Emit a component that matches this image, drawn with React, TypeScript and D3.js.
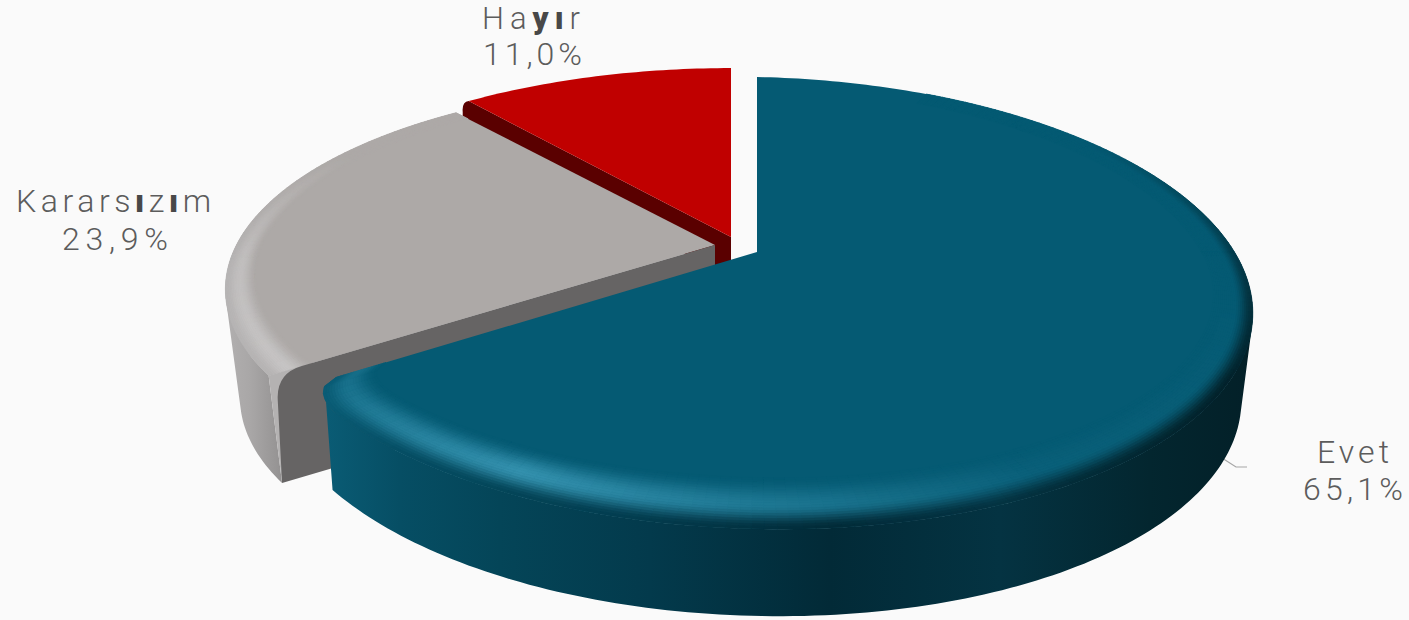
import React from 'react';
import * as d3 from 'd3';

const categories = ['Evet', 'Kararsızım', 'Hayır'];
const shares = [65.1, 23.9, 11.0];
const shareLabels = ['65,1%', '23,9%', '11,0%'];

const width = 1409;
const height = 620;
const deg = Math.PI / 180;

interface Geom {
  ax: number; ay: number; A: number; B: number; D: number; k: number;
  sx: number; sy: number; H: number;
}

// each exploded slice has its own projection, the original is a perspective render
const blueGeom: Geom = { ax: 757, ay: 252, A: 483, B: 214.5, D: 10, k: 0.2256, sx: 0.977, sy: 1, H: 87 };
const grayGeom: Geom = { ax: 715, ay: 245, A: 477, B: 199, D: 3, k: 0.2256, sx: 0.97, sy: 0.98, H: 110 };
const redGeom: Geom = { ax: 731, ay: 237, A: 483, B: 207, D: 0, k: 0.2256, sx: 1, sy: 1, H: 40 };

type P = [number, number];

function project(g: Geom, theta: number, r: number): P {
  const u = r * Math.sin(theta);
  const v = -r * Math.cos(theta);
  const s = 1 / (1 - g.k * v);
  return [g.ax + g.A * u * s, g.ay + (g.B * v + g.D * u) * s];
}

function drop(g: Geom, p: P): P {
  return [g.ax + g.sx * (p[0] - g.ax), g.ay + g.sy * (p[1] - g.ay) + g.H];
}

const line = d3.line<P>();

function sweep(a: number, b: number, step = 1 * deg): number[] {
  const n = Math.max(2, Math.ceil(Math.abs(b - a) / step));
  return d3.range(n + 1).map(i => a + ((b - a) * i) / n);
}

const pie = d3.pie<number>().sort(null).value(d => d);
const arcs = pie(shares);

const blueSurface = '#055a73';
const graySurface = '#ada9a7';
const grayCut = '#666464';

const blueWall = d3.scaleLinear<string>()
  .domain([323, 400, 500, 650, 830, 1000, 1150, 1250])
  .range(['#0a5c75', '#064e64', '#044558', '#033a4c', '#022a37', '#043342', '#03262f', '#032028'])
  .clamp(true);
const blueHighlight = d3.scaleLinear<number>()
  .domain([100, 150, 180, 205, 225, 235]).range([0, 0.1, 0.55, 1, 0.6, 0.35]).clamp(true);
const blueEdge = d3.scaleLinear<number>().domain([50, 120]).range([0, 1]).clamp(true);

const grayWall = d3.scaleLinear<string>()
  .domain([225, 250, 290])
  .range(['#b2b0b0', '#a9a7a7', '#8e8c8c'])
  .clamp(true);
const grayHighlight = d3.scaleLinear<number>().domain([234, 265, 285, 300]).range([1, 0.8, 0.3, 0]).clamp(true);
const grayEdgeMix = d3.scaleLinear<number>().domain([262, 298]).range([1, 0]).clamp(true);

// rim radius, pulled in close to the cut so the corner reads rounded
function rimRadius(theta: number, end: number, rc: number, dc: number): number {
  const d = end - theta;
  if (rc === 0 || d >= dc) return 1;
  const q = 1 - d / dc;
  return 1 - rc * (1 - Math.sqrt(1 - q * q));
}

interface Quad { d: string; fill: string }

interface Bevel {
  start: number; end: number; rc: number; dc: number; w0: number; w1: number;
  surface: string; glow: string;
  wall: (x: number) => string; highlight: (t: number) => number; edge: (t: number) => number;
}

function bevelQuads(g: Geom, b: Bevel): Quad[] {
  const quads: Quad[] = [];
  const thetas = sweep(b.start, b.end, 1.2 * deg);
  const bands = 20;
  const bw = (t: number) => b.w0 + b.w1 * Math.pow(Math.max(0, -Math.cos(t)), 1.5);
  const rad = (t: number) => rimRadius(t, b.end, b.rc, b.dc);
  for (let i = 0; i < thetas.length - 1; i++) {
    const t0 = thetas[i];
    const t1 = thetas[i + 1];
    const mid = (t0 + t1) / 2;
    const xEdge = project(g, mid, 1)[0];
    const midColor = d3.interpolateRgb(b.surface, b.glow)(b.highlight(mid / deg));
    const edgeColor = d3.interpolateRgb(b.surface, b.wall(xEdge))(b.edge(mid / deg));
    for (let j = 0; j < bands; j++) {
      const a0 = j / bands;
      const a1 = (j + 1) / bands;
      const c = (a0 + a1) / 2;
      const fill = c < 0.55
        ? d3.interpolateRgb(b.surface, midColor)(d3.easeSinInOut(c / 0.55))
        : d3.interpolateRgb(midColor, edgeColor)(d3.easeSinInOut((c - 0.55) / 0.45));
      quads.push({
        d: line([
          project(g, t0, rad(t0) * (1 - bw(t0) * (1 - a0))),
          project(g, t0, rad(t0) * (1 - bw(t0) * (1 - a1))),
          project(g, t1, rad(t1) * (1 - bw(t1) * (1 - a1))),
          project(g, t1, rad(t1) * (1 - bw(t1) * (1 - a0))),
        ])! + 'Z',
        fill,
      });
    }
  }
  return quads;
}

function topPath(g: Geom, start: number, end: number, rc = 0, dc = 0): string {
  const rim = sweep(start, end).map(t => project(g, t, rimRadius(t, end, rc, dc)));
  return line([[g.ax, g.ay], ...rim])! + 'Z';
}

// the wall is the rim swept down, one same-wound quad per step so nothing cancels out
function wallPath(g: Geom, start: number, end: number, rad: (t: number) => number = () => 1): string {
  const thetas = sweep(start, end);
  const parts: string[] = [];
  for (let i = 0; i < thetas.length - 1; i++) {
    const t0 = thetas[i];
    const t1 = thetas[i + 1];
    const quad: P[] = [
      project(g, t0, rad(t0)),
      project(g, t1, rad(t1)),
      drop(g, project(g, t1, 1)),
      drop(g, project(g, t0, 1)),
    ];
    if (d3.polygonArea(quad) < 0) quad.reverse();
    parts.push(line(quad)! + 'Z');
  }
  return parts.join('');
}

function redCutPath(g: Geom, theta: number): string {
  const apex: P = [g.ax, g.ay];
  const rim = project(g, theta, 1);
  const low = drop(g, rim);
  const lowApex = drop(g, apex);
  return `M${apex}L${rim}Q${[rim[0] - 7, rim[1] + 1]} ${[rim[0] - 6, rim[1] + 11]}L${[low[0] - 6, low[1]]}L${lowApex}Z`;
}

// gray cut face, its outer top corner is rounded
function grayCutPath(g: Geom, theta: number): string {
  const apex: P = [g.ax, g.ay];
  const rim = project(g, theta, 0.985);
  const low = drop(g, project(g, theta, 1));
  const a = project(g, theta, 0.935);
  const b: P = [rim[0] + (low[0] - rim[0]) * 0.24, rim[1] + (low[1] - rim[1]) * 0.24];
  const lowApex = drop(g, apex);
  return `M${apex}L${a}Q${rim} ${b}L${low}L${lowApex}Z`;
}

// light piece that the rounded corner of the cut face leaves showing
function grayCornerPath(g: Geom, theta: number): string {
  const low = drop(g, project(g, theta, 1));
  return line([project(g, theta, 0.92), project(g, theta, 1), low])! + 'Z';
}

const [blueArc, grayArc, redArc] = arcs;
const blueEnd = blueArc.endAngle;
const blueRc = 0.06;
const blueDc = 0.13;
const blueQuads = bevelQuads(blueGeom, {
  start: 25 * deg, end: blueEnd, rc: blueRc, dc: blueDc, w0: 0.07, w1: 0.08,
  surface: blueSurface, glow: '#3390ad',
  wall: x => blueWall(x), highlight: t => blueHighlight(t), edge: t => blueEdge(t),
});
const grayQuads = bevelQuads(grayGeom, {
  start: grayArc.startAngle, end: grayArc.endAngle, rc: 0, dc: 0, w0: 0.055, w1: 0.07,
  surface: graySurface, glow: '#c6c4c4',
  wall: () => '#b6b4b4', highlight: t => grayHighlight(t), edge: t => grayEdgeMix(t),
});

const textColor = '#5c5c5c';

function Label({ x, y, w, size = 32, children }: { x: number; y: number; w: number; size?: number; children: React.ReactNode }) {
  return (
    <text x={x} y={y} textLength={w} lengthAdjust="spacing" fontFamily="Roboto" fontWeight={300} fontSize={size} fill={textColor}>
      {children}
    </text>
  );
}

const bold = { fontWeight: 900, fill: '#484848' };

export default function App() {
  const stops = blueWall.domain().map(x => ({ x, c: blueWall(x) }));
  const grayStops = grayWall.domain().map(x => ({ x, c: grayWall(x) }));
  return (
    <svg width={width} height={height} style={{ position: 'absolute', left: 0, top: 0, display: 'block', background: '#fafafa' }}>
      <defs>
        <linearGradient id="blueWall" gradientUnits="userSpaceOnUse" x1={323} x2={1250} y1={0} y2={0}>
          {stops.map(s => <stop key={s.x} offset={(s.x - 323) / (1250 - 323)} stopColor={s.c} />)}
        </linearGradient>
        <linearGradient id="grayWall" gradientUnits="userSpaceOnUse" x1={225} x2={290} y1={0} y2={0}>
          {grayStops.map(s => <stop key={s.x} offset={(s.x - 225) / (290 - 225)} stopColor={s.c} />)}
        </linearGradient>
      </defs>

      {/* Hayır */}
      <path d={redCutPath(redGeom, redArc.startAngle)} fill="#5a0000" />
      <path d={topPath(redGeom, redArc.startAngle, redArc.endAngle)} fill="#c00000" />

      {/* Kararsızım */}
      <path d={wallPath(grayGeom, grayArc.startAngle, grayArc.startAngle + 40 * deg)} fill="url(#grayWall)" />
      <path d={topPath(grayGeom, grayArc.startAngle, grayArc.endAngle)} fill={graySurface} />
      {grayQuads.map((q, i) => <path key={i} d={q.d} fill={q.fill} stroke={q.fill} strokeWidth={0.7} />)}
      <path d={grayCornerPath(grayGeom, grayArc.startAngle)} fill="#b4b2b2" />
      <path d={grayCutPath(grayGeom, grayArc.startAngle)} fill={grayCut} />

      {/* leader line of Evet */}
      <path d={line([[1222, 458], [1236, 467], [1247, 467]])!} fill="none" stroke="#a6a6a6" strokeWidth={1.2} />

      {/* Evet */}
      <path
        d={wallPath(blueGeom, 60 * deg, blueEnd - 0.07, t => rimRadius(t, blueEnd, blueRc, blueDc))}
        fill="url(#blueWall)"
      />
      <path d={topPath(blueGeom, blueArc.startAngle, blueEnd, blueRc, blueDc)} fill={blueSurface} />
      {blueQuads.map((q, i) => <path key={i} d={q.d} fill={q.fill} stroke={q.fill} strokeWidth={0.7} />)}

      <Label x={482} y={29} w={98} size={31}>Ha<tspan style={bold}>yı</tspan>r</Label>
      <Label x={483} y={65} w={99}>{shareLabels[2]}</Label>
      <Label x={16} y={212} w={195}>Karars<tspan style={bold}>ı</tspan>z<tspan style={bold}>ı</tspan>m</Label>
      <Label x={62} y={250} w={106}>{shareLabels[1]}</Label>
      <Label x={1317} y={463} w={72}>{categories[0]}</Label>
      <Label x={1303} y={500} w={100}>{shareLabels[0]}</Label>
    </svg>
  );
}
